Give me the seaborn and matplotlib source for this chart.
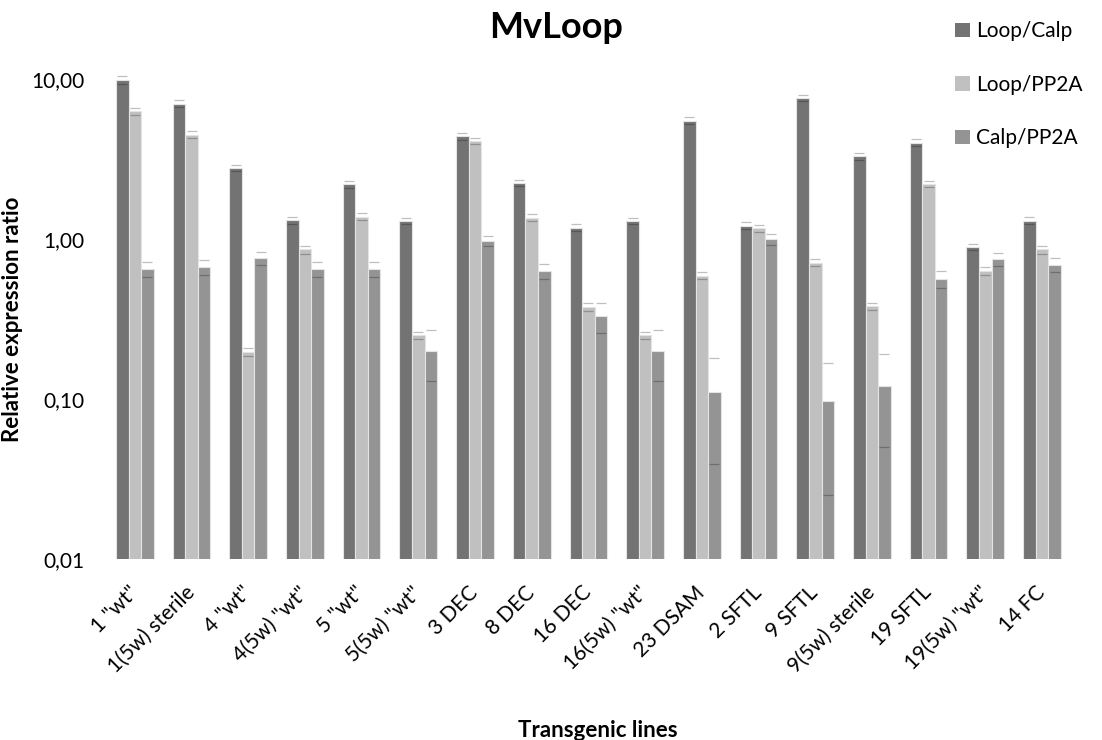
import numpy as np
import pandas as pd
import matplotlib
matplotlib.use('Agg')
import matplotlib.pyplot as plt
import seaborn as sns
from matplotlib.patches import Patch

# Daten
lines = ['1 "wt"', '1(5w) sterile', '4 "wt"', '4(5w) "wt"', '5 "wt"', '5(5w) "wt"',
         '3 DEC', '8 DEC', '16 DEC', '16(5w) "wt"', '23 DSAM', '2 SFTL', '9 SFTL',
         '9(5w) sterile', '19 SFTL', '19(5w) "wt"', '14 FC']
series = ['Loop/Calp', 'Loop/PP2A', 'Calp/PP2A']
loop_calp = [9.9, 7.0, 2.77, 1.31, 2.2, 1.3, 4.4, 2.24, 1.18, 1.3, 5.5, 1.21, 7.6, 3.3, 4.0, 0.89, 1.3]
loop_calp_err = [0.55, 0.35, 0.12, 0.06, 0.12, 0.06, 0.22, 0.11, 0.06, 0.06, 0.3, 0.06, 0.35, 0.16, 0.2, 0.04, 0.065]
loop_pp2a = [6.3, 4.5, 0.196, 0.86, 1.38, 0.25, 4.1, 1.36, 0.376, 0.25, 0.59, 1.17, 0.71, 0.38, 2.2, 0.63, 0.86]
loop_pp2a_err = [0.3, 0.22, 0.011, 0.05, 0.07, 0.012, 0.2, 0.07, 0.02, 0.012, 0.03, 0.06, 0.035, 0.02, 0.1, 0.035, 0.05]
calp_pp2a = [0.65, 0.67, 0.76, 0.65, 0.65, 0.2, 0.97, 0.63, 0.33, 0.2, 0.11, 1.0, 0.097, 0.12, 0.565, 0.75, 0.69]
calp_pp2a_err = [0.07, 0.07, 0.07, 0.07, 0.07, 0.07, 0.07, 0.07, 0.07, 0.07, 0.071, 0.08, 0.072, 0.07, 0.07, 0.07, 0.07]
colors = ['#737373', '#c0c0c0', '#949494']

df = pd.DataFrame({
    'line': lines * 3,
    'ratio': loop_calp + loop_pp2a + calp_pp2a,
    'series': [s for s in series for _ in lines],
})
errs = [loop_calp_err, loop_pp2a_err, calp_pp2a_err]

sns.set_style('white')
plt.rcParams['font.family'] = ['Lato', 'DejaVu Sans']
plt.rcParams['text.color'] = 'black'
plt.rcParams['xtick.color'] = 'black'
plt.rcParams['ytick.color'] = 'black'
plt.rcParams['axes.labelcolor'] = 'black'

fig = plt.figure(figsize=(11.02, 7.40), dpi=100)
ax = fig.add_axes([0.0966, 0.2446, 0.8747, 0.6486])

sns.barplot(data=df, x='line', y='ratio', hue='series', palette=colors, width=0.665,
            errorbar=None, edgecolor='#e4e4e4', linewidth=0.8, ax=ax, legend=False)
ax.set_yscale('log')

# Fehlerbalken: nur Caps
for cont, e in zip(ax.containers, errs):
    xs = [p.get_x() + p.get_width() / 2 for p in cont]
    ys = [p.get_height() for p in cont]
    eb = ax.errorbar(xs, ys, yerr=e, fmt='none', ecolor=(0, 0, 0, 0.25),
                     capsize=3.6, capthick=0.9, elinewidth=0, zorder=5)
    eb[2][0].set_visible(False)
    for c in eb[1]:
        c.set_clip_on(False)

ax.set_xlim(-0.5, len(lines) - 0.5)
ax.set_ylim(0.01, 10)

ax.set_yticks([0.01, 0.1, 1, 10])
ax.set_yticklabels(['0,01', '0,10', '1,00', '10,00'])
ax.yaxis.set_minor_locator(matplotlib.ticker.NullLocator())
ax.tick_params(axis='y', length=0, pad=16, labelsize=15)
ax.tick_params(axis='x', length=0, pad=22, labelsize=15)
plt.setp(ax.get_xticklabels(), rotation=45, ha='right', va='center', rotation_mode='anchor')
sns.despine(ax=ax, left=True, bottom=True)

ax.set_ylabel('Relative expression ratio', fontsize=16, fontweight='bold')
ax.yaxis.set_label_coords(-0.087, 0.5)
ax.set_xlabel('Transgenic lines', fontsize=16, fontweight='bold')
ax.xaxis.set_label_coords(0.51, -0.335)

fig.text(0.505, 0.963, 'MvLoop', ha='center', va='center', fontsize=26, fontweight='bold')

handles = [Patch(facecolor=c, edgecolor='none') for c in colors]
fig.legend(handles, series, loc='upper left', bbox_to_anchor=(0.867, 0.971), frameon=False,
           fontsize=15, handlelength=0.7, handleheight=0.7, handletextpad=0.3,
           labelspacing=1.6, borderaxespad=0, borderpad=0)

fig.savefig('out.png', dpi=100)
